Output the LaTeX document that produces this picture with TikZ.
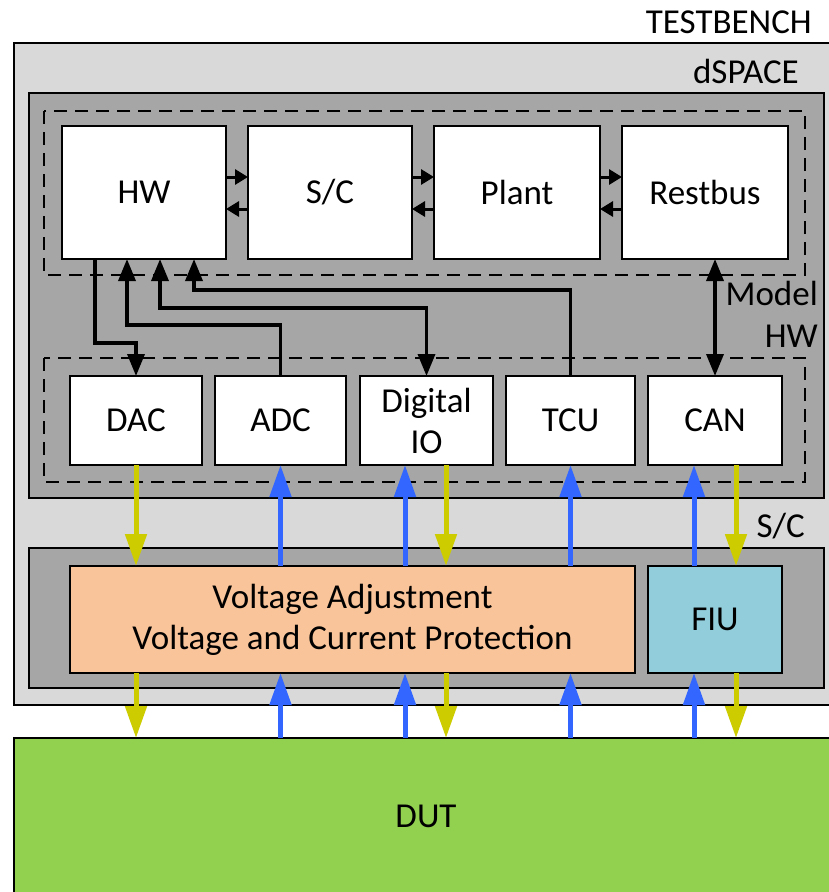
\documentclass[tikz,border=0pt]{standalone}
\usepackage{fontspec}
\setmainfont{Carlito}
\usetikzlibrary{arrows.meta}
\definecolor{lgray}{HTML}{D9D9D9}
\definecolor{dgray}{HTML}{A6A6A6}
\definecolor{peach}{HTML}{F9C499}
\definecolor{fiublue}{HTML}{92CDDC}
\definecolor{dutgreen}{HTML}{92D050}
\definecolor{yarrowc}{HTML}{CCCC00}
\definecolor{barrowc}{HTML}{3366FF}
\begin{document}
\begin{tikzpicture}[x=1pt,y=-1pt,
  font=\fontsize{35}{41}\selectfont,
  box/.style={draw, line width=2pt, fill=white, inner sep=0pt, outer sep=0pt, align=center},
  frame/.style={draw, line width=2pt, inner sep=0pt, outer sep=0pt},
  dashbox/.style={draw, line width=2.2pt, dash pattern=on 13pt off 8pt},
  lbl/.style={anchor=base east, inner sep=0pt},
  sconn/.style={line width=3pt, -{Triangle[length=13pt,width=15pt]}},
  conn/.style={line width=3.5pt, -{Triangle[length=22pt,width=17pt]}},
  dconn/.style={line width=3.5pt, {Triangle[length=22pt,width=17pt]}-{Triangle[length=22pt,width=17pt]}},
  yarr/.style={draw=yarrowc, line width=5pt, -{Triangle[length=32pt,width=21pt]}},
  barr/.style={draw=barrowc, line width=5pt, -{Triangle[length=32pt,width=21pt]}}
]
\useasboundingbox (0,0) rectangle (829,892);
\clip (0,0) rectangle (829,892);
% containers
\node[frame, fill=lgray, minimum width=824pt, minimum height=662pt] (tb) at (426,374) {};
\node[frame, fill=dutgreen, minimum width=824pt, minimum height=156pt] (dut) at (426,816) {DUT};
\node[frame, fill=dgray, minimum width=795pt, minimum height=405pt] (ds) at (426.5,295.5) {};
\node[frame, fill=dgray, minimum width=795pt, minimum height=140pt] (scbox) at (426.5,618) {};
\draw[dashbox] (44,111) rectangle (805,275);
\draw[dashbox] (44,358) rectangle (805,482);
% labels
\node[lbl] (ltb) at (812,33) {TESTBENCH};
\node[lbl] (lds) at (799,83) {dSPACE};
\node[lbl] (lmodel) at (818,305) {Model};
\node[lbl] (lhw) at (818,347) {HW};
\node[lbl] (lsc) at (805,537) {S/C};
% model blocks
\node[box, minimum width=164pt, minimum height=133pt] (hw) at (144,192.5) {HW};
\node[box, minimum width=164pt, minimum height=133pt] (sc) at (330,192.5) {S/C};
\node[box, minimum width=166pt, minimum height=133pt] (plant) at (517,192.5) {Plant};
\node[box, minimum width=166pt, minimum height=133pt] (rb) at (705,192.5) {Restbus};
% hw blocks
\node[box, minimum width=132pt, minimum height=89pt] (dac) at (136,420.5) {DAC};
\node[box, minimum width=131pt, minimum height=89pt] (adc) at (280.5,420.5) {ADC};
\node[box, minimum width=133pt, minimum height=89pt] (dio) at (426.5,420.5) {Digital\\IO};
\node[box, minimum width=129pt, minimum height=89pt] (tcu) at (570.5,420.5) {TCU};
\node[box, minimum width=134pt, minimum height=89pt] (can) at (715,420.5) {CAN};
% s/c blocks
\node[box, fill=peach, minimum width=565pt, minimum height=107pt] (vab) at (352.5,619.5) {Voltage Adjustment\\Voltage and Current Protection};
\node[box, fill=fiublue, minimum width=134pt, minimum height=107pt] (fiu) at (715,619.5) {FIU};
% model arrows
\draw[sconn] (hw.east |- 0,177) -- (sc.west |- 0,177);
\draw[sconn] (sc.west |- 0,209) -- (hw.east |- 0,209);
\draw[sconn] (sc.east |- 0,177) -- (plant.west |- 0,177);
\draw[sconn] (plant.west |- 0,209) -- (sc.east |- 0,209);
\draw[sconn] (plant.east |- 0,177) -- (rb.west |- 0,177);
\draw[sconn] (rb.west |- 0,209) -- (plant.east |- 0,209);
% hw connectors
\draw[conn] (hw.south -| 95,0) |- (136,343) -- (dac.north);
\draw[conn] (adc.north) -- (280.5,325) -| (hw.south -| 127,0);
\draw[dconn] (hw.south -| 160,0) |- (426.5,308) -- (dio.north);
\draw[conn] (tcu.north) -- (570.5,290) -| (hw.south -| 194,0);
\draw[dconn] (rb.south -| can.north) -- (can.north);
% signal arrows upper
\draw[yarr] (dac.south) -- (dac.south |- vab.north);
\draw[barr] (adc.south |- vab.north) -- (adc.south);
\draw[barr] (vab.north -| 405,0) -- (dio.south -| 405,0);
\draw[yarr] (dio.south -| 446,0) -- (vab.north -| 446,0);
\draw[barr] (tcu.south |- vab.north) -- (tcu.south);
\draw[barr] (fiu.north -| 694,0) -- (can.south -| 694,0);
\draw[yarr] (can.south -| 736,0) -- (fiu.north -| 736,0);
% signal arrows lower
\draw[yarr] (vab.south -| dac.south) -- (dut.north -| dac.south);
\draw[barr] (dut.north -| adc.south) -- (vab.south -| adc.south);
\draw[barr] (dut.north -| 405,0) -- (vab.south -| 405,0);
\draw[yarr] (vab.south -| 446,0) -- (dut.north -| 446,0);
\draw[barr] (dut.north -| tcu.south) -- (vab.south -| tcu.south);
\draw[barr] (dut.north -| 694,0) -- (fiu.south -| 694,0);
\draw[yarr] (fiu.south -| 736,0) -- (dut.north -| 736,0);
\end{tikzpicture}
\end{document}
